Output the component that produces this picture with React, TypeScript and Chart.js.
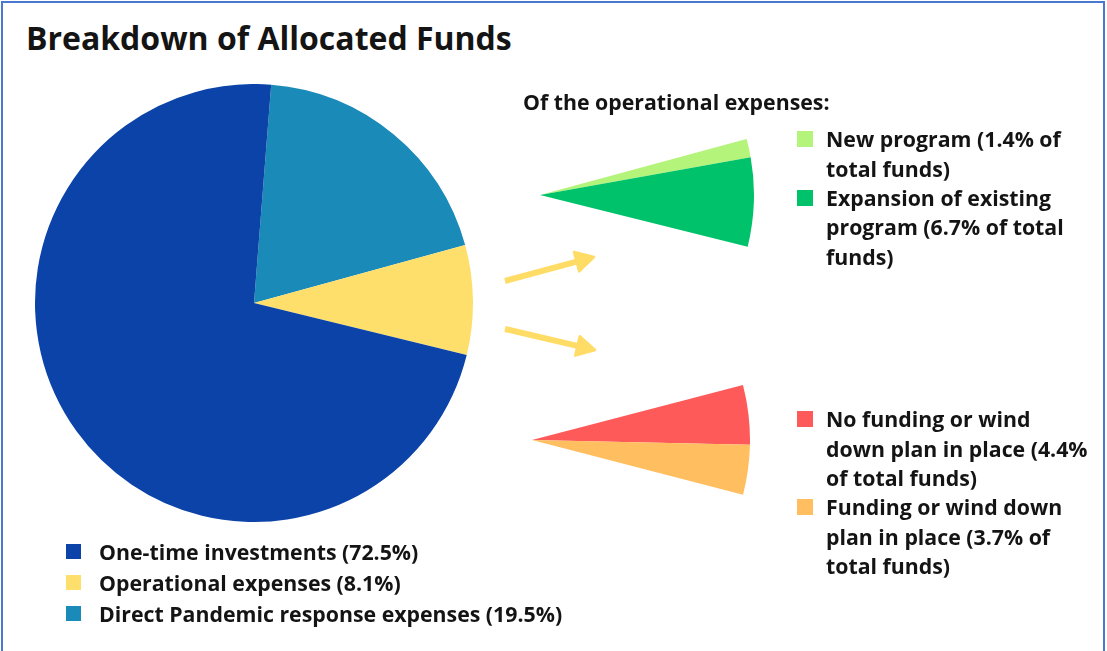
import React, { useEffect, useRef } from 'react';
import { Chart, registerables } from 'chart.js';

Chart.register(...registerables);

// ---- Data ----
const TITLE = 'Breakdown of Allocated Funds';
const SUBTITLE = 'Of the operational expenses:';

const mainCategories = [
  'One-time investments (72.5%)',
  'Operational expenses (8.1%)',
  'Direct Pandemic response expenses (19.5%)',
];
const mainValues = [72.5, 8.1, 19.5];
const mainColors = ['#0B43A8', '#FFDF6B', '#1A8AB8'];

const programCategories = [
  'New program (1.4% of\ntotal funds)',
  'Expansion of existing\nprogram (6.7% of total\nfunds)',
];
const programValues = [1.4, 6.7];
const programColors = ['#B4F47B', '#00C26A'];

const fundingCategories = [
  'No funding or wind\ndown plan in place (4.4%\nof total funds)',
  'Funding or wind down\nplan in place (3.7% of\ntotal funds)',
];
const fundingValues = [4.4, 3.7];
const fundingColors = ['#FF5A5A', '#FFBE5F'];

const TOTAL_FUNDS = 100;

const FONT = '"Open Sans", "Noto Sans", sans-serif';
const TEXT = '#141414';
const ARROW = '#FFDC66';
const BODY_SIZE = 21.3;

type PieProps = {
  labels: string[];
  values: number[];
  colors: string[];
  rotation: number;
  cx: number;
  cy: number;
  r: number;
};

function PieCanvas({ labels, values, colors, rotation, cx, cy, r }: PieProps) {
  const ref = useRef<HTMLCanvasElement>(null);
  const size = r * 2;
  useEffect(() => {
    const chart = new Chart(ref.current as HTMLCanvasElement, {
      type: 'pie',
      data: {
        labels,
        datasets: [
          {
            data: values,
            backgroundColor: colors,
            borderWidth: 0,
            hoverOffset: 0,
          },
        ],
      },
      options: {
        responsive: false,
        animation: false,
        rotation,
        layout: { padding: 0 },
        events: [],
        plugins: { legend: { display: false }, tooltip: { enabled: false } },
      },
    });
    return () => chart.destroy();
  }, []);
  return (
    <canvas
      ref={ref}
      width={size}
      height={size}
      style={{ position: 'absolute', left: cx - r, top: cy - r, width: size, height: size }}
    />
  );
}

function Arrow({ x1, y1, x2, y2 }: { x1: number; y1: number; x2: number; y2: number }) {
  const dx = x2 - x1;
  const dy = y2 - y1;
  const len = Math.hypot(dx, dy);
  const ux = dx / len;
  const uy = dy / len;
  const hl = 18;
  const hw = 10;
  const bx = x2 - ux * hl;
  const by = y2 - uy * hl;
  const pts = `${x2},${y2} ${bx - uy * hw},${by + ux * hw} ${bx + uy * hw},${by - ux * hw}`;
  return (
    <g>
      <line x1={x1} y1={y1} x2={bx + ux * 2} y2={by + uy * 2} stroke={ARROW} strokeWidth={6} />
      <polygon points={pts} fill={ARROW} stroke={ARROW} strokeWidth={2.5} strokeLinejoin="round" />
    </g>
  );
}

function LegendItem({ color, label, left, top, lineH, fontSize, square, gap }: any) {
  return (
    <div style={{ position: 'absolute', left, top, display: 'flex', alignItems: 'flex-start' }}>
      <div
        style={{
          width: square,
          height: square,
          background: color,
          marginTop: (lineH - square) / 2,
          marginRight: gap,
          flex: 'none',
        }}
      />
      <div style={{ whiteSpace: 'pre', lineHeight: `${lineH}px`, fontSize, fontWeight: 700, color: TEXT }}>
        {label}
      </div>
    </div>
  );
}

export default function App() {
  const rightLH = 29.3;
  const lines = (s: string) => s.split('\n').length;
  return (
    <div
      style={{
        position: 'fixed',
        left: 0,
        top: 0,
        width: 1107,
        height: 651,
        background: '#ffffff',
        overflow: 'hidden',
        fontFamily: FONT,
      }}
    >
      <div
        style={{
          position: 'absolute',
          left: 1,
          top: 1,
          width: 1104,
          height: 700,
          boxSizing: 'border-box',
          border: '2px solid #4A78D0',
        }}
      />
      <div
        style={{
          position: 'absolute',
          left: 26,
          top: 17,
          fontSize: 32,
          fontWeight: 700,
          color: TEXT,
          lineHeight: '42px',
          whiteSpace: 'nowrap',
        }}
      >
        {TITLE}
      </div>

      {/* main pie: drawn clockwise Direct, Operational, One-time */}
      <PieCanvas
        labels={[...mainCategories].reverse()}
        values={[...mainValues].reverse()}
        colors={[...mainColors].reverse()}
        rotation={4.5}
        cx={254}
        cy={303}
        r={219}
      />

      {/* operational breakdown wedges (share of total funds) */}
      <PieCanvas
        labels={[...programCategories, 'rest']}
        values={[...programValues, TOTAL_FUNDS - programValues.reduce((a, b) => a + b, 0)]}
        colors={[...programColors, 'rgba(0,0,0,0)']}
        rotation={74.8}
        cx={540}
        cy={195}
        r={214}
      />
      <PieCanvas
        labels={[...fundingCategories, 'rest']}
        values={[...fundingValues, TOTAL_FUNDS - fundingValues.reduce((a, b) => a + b, 0)]}
        colors={[...fundingColors, 'rgba(0,0,0,0)']}
        rotation={75.4}
        cx={532}
        cy={440}
        r={218}
      />

      <svg width={1107} height={651} style={{ position: 'absolute', left: 0, top: 0 }}>
        <Arrow x1={505} y1={281} x2={594} y2={257} />
        <Arrow x1={505} y1={329} x2={595} y2={350} />
      </svg>

      <div
        style={{
          position: 'absolute',
          left: 523,
          top: 88,
          fontSize: BODY_SIZE,
          fontWeight: 700,
          color: TEXT,
          lineHeight: '28px',
          whiteSpace: 'nowrap',
        }}
      >
        {SUBTITLE}
      </div>

      {programCategories.map((c, i) => (
        <LegendItem
          key={c}
          color={programColors[i]}
          label={c}
          left={797}
          top={139 - rightLH / 2 + programCategories.slice(0, i).reduce((a, s) => a + lines(s) * rightLH, 0)}
          lineH={rightLH}
          fontSize={BODY_SIZE}
          square={16}
          gap={13}
        />
      ))}
      {fundingCategories.map((c, i) => (
        <LegendItem
          key={c}
          color={fundingColors[i]}
          label={c}
          left={797}
          top={419 - rightLH / 2 + fundingCategories.slice(0, i).reduce((a, s) => a + lines(s) * rightLH, 0)}
          lineH={rightLH}
          fontSize={BODY_SIZE}
          square={16}
          gap={13}
        />
      ))}

      {mainCategories.map((c, i) => (
        <LegendItem
          key={c}
          color={mainColors[i]}
          label={c}
          left={66}
          top={551 - 15.5 + i * 31}
          lineH={31}
          fontSize={BODY_SIZE}
          square={15}
          gap={18}
        />
      ))}
    </div>
  );
}
